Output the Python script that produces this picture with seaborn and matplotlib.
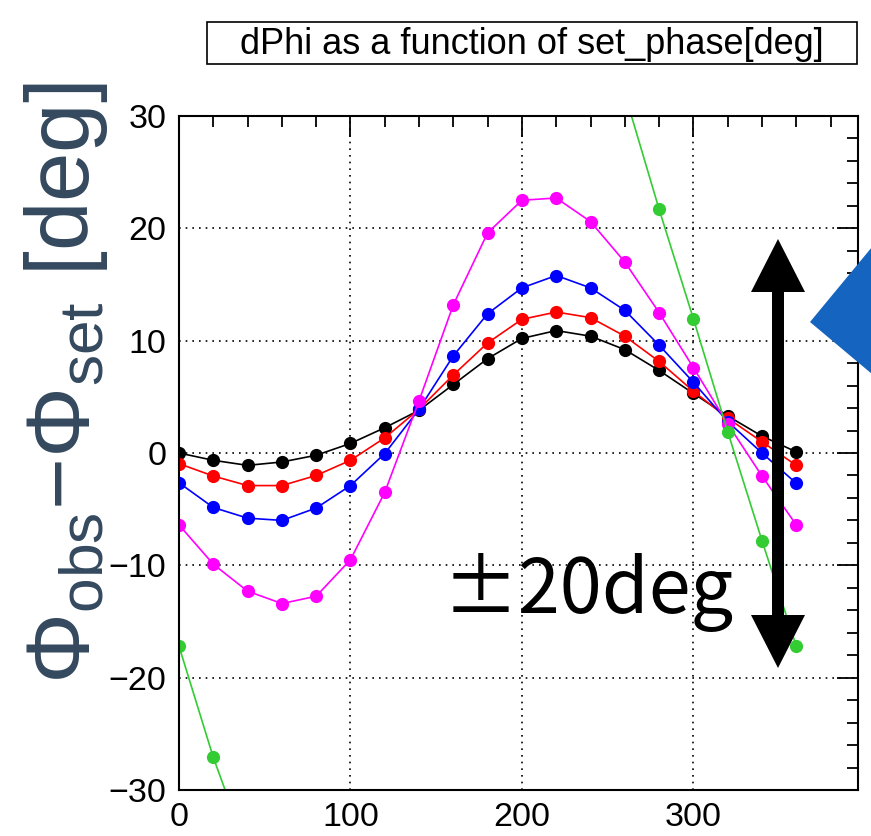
import numpy as np
import pandas as pd
import matplotlib
matplotlib.use("Agg")
import matplotlib.pyplot as plt
from matplotlib.patches import Rectangle, Polygon
from matplotlib.ticker import MultipleLocator
import seaborn as sns

# ---------------- data ----------------
phase = [0, 20, 40, 60, 80, 100, 120, 140, 160, 180, 200, 220, 240, 260, 280, 300, 320, 340, 360]
black = [0.0, -0.65, -1.1, -0.8, -0.2, 0.85, 2.25, 3.8, 6.1, 8.4, 10.2, 10.9, 10.4, 9.2, 7.35, 5.3, 3.3, 1.5, 0.1]
red = [-0.95, -2.05, -2.9, -2.9, -2.0, -0.65, 1.35, 3.9, 6.95, 9.8, 11.9, 12.55, 12.05, 10.4, 8.15, 5.5, 3.1, 1.0, -1.1]
blue = [-2.65, -4.85, -5.8, -6.0, -4.9, -2.9, -0.05, 3.9, 8.65, 12.4, 14.7, 15.8, 14.7, 12.7, 9.6, 6.3, 2.8, 0.0, -2.7]
magenta = [-6.4, -9.9, -12.3, -13.4, -12.75, -9.5, -3.5, 4.65, 13.2, 19.6, 22.5, 22.7, 20.6, 17.0, 12.5, 7.6, 2.6, -2.05, -6.4]
green_phase_a = [0, 20, 40]
green_a = [-17.2, -27.1, -35.5]
green_phase_b = [260, 280, 300, 320, 340, 360]
green_b = [32.0, 21.7, 11.95, 1.9, -7.8, -17.2]

x_ticks = [0, 100, 200, 300]
y_ticks = [-30, -20, -10, 0, 10, 20, 30]
title = "dPhi as a function of set_phase[deg]"
ylabel = "Φ$_{\\mathregular{obs}}$−Φ$_{\\mathregular{set}}$ [deg]"
note = "±20deg"

series_colors = {"black": "#000000", "red": "#ff0000", "blue": "#0000ff",
                 "magenta": "#ff00ff", "green": "#33cc33"}

rows = []
for name, vals in [("black", black), ("red", red), ("blue", blue), ("magenta", magenta)]:
    for p, v in zip(phase, vals):
        rows.append(dict(series=name, seg=0, phase=p, dphi=v))
for p, v in zip(green_phase_a, green_a):
    rows.append(dict(series="green", seg=0, phase=p, dphi=v))
for p, v in zip(green_phase_b, green_b):
    rows.append(dict(series="green", seg=1, phase=p, dphi=v))
df = pd.DataFrame(rows)

# ---------------- style ----------------
sns.set_theme(style="white")
plt.rcParams["font.family"] = ["Liberation Sans", "DejaVu Sans"]
plt.rcParams["mathtext.fontset"] = "custom"
plt.rcParams["mathtext.rm"] = "Liberation Sans"

W, H = 871, 836
fig = plt.figure(figsize=(W / 100, H / 100), dpi=100)
fig.patch.set_facecolor("white")

def fx(px):
    return px / W

def fy(py):
    return 1 - py / H

ax = fig.add_axes([fx(179), fy(790), (858 - 179) / W, (790 - 116) / H])
ax.set_facecolor("white")

sns.lineplot(data=df, x="phase", y="dphi", hue="series", units="seg", estimator=None,
             hue_order=["black", "red", "blue", "magenta", "green"],
             palette=series_colors, marker="o", markersize=9.5, markeredgewidth=0,
             linewidth=1.2, legend=False, sort=False, ax=ax, clip_on=True)

ax.set_xlim(0, 396)
ax.set_ylim(-30, 30)
ax.set_xticks(x_ticks)
ax.set_yticks(y_ticks)
ax.xaxis.set_minor_locator(MultipleLocator(20))
ax.yaxis.set_minor_locator(MultipleLocator(2))
ax.set_xlabel("")
ax.set_ylabel("")
ax.grid(True, which="major", color="black", linestyle=(0, (1, 3)), linewidth=1.2)
ax.tick_params(which="both", direction="in", top=True, right=True, color="black",
               labelsize=24.5, labelcolor="black")
ax.tick_params(which="major", length=15, width=1.3, pad=9)
ax.tick_params(which="minor", length=8, width=1.3)
for s in ax.spines.values():
    s.set_color("black")
    s.set_linewidth(1.5)

# title box
fig.patches.append(Rectangle((fx(207), fy(64)), (857 - 207) / W, (64 - 22) / H,
                             transform=fig.transFigure, facecolor="white",
                             edgecolor="black", linewidth=1.2))
fig.text(fx(532), fy(44), title, ha="center", va="center", fontsize=26, color="black")

# y label
fig.text(fx(66), fy(383), ylabel, rotation=90, ha="center", va="center",
         fontsize=64, color="#34495e")

# annotation: double-headed arrow
cx, top, bot = 778, 239, 668
hw, sw, hl = 27, 6, 53
pts = [(cx, top), (cx + hw, top + hl), (cx + sw, top + hl), (cx + sw, bot - hl),
       (cx + hw, bot - hl), (cx, bot), (cx - hw, bot - hl), (cx - sw, bot - hl),
       (cx - sw, top + hl), (cx - hw, top + hl)]
fig.patches.append(Polygon([(fx(a), fy(b)) for a, b in pts], closed=True,
                           transform=fig.transFigure, facecolor="black",
                           edgecolor="none", zorder=5))

fig.text(fx(443), fy(613), note, ha="left", va="baseline", fontsize=54.5,
         family=["Noto Sans CJK JP", "DejaVu Sans"], color="black", zorder=6)

# blue pointer shape at right edge
tri = [(810, 322), (872, 247), (872, 374)]
fig.patches.append(Polygon([(fx(a), fy(b)) for a, b in tri], closed=True,
                           transform=fig.transFigure, facecolor="#1565c0",
                           edgecolor="none", zorder=5))

fig.savefig("out.png", dpi=100, facecolor="white")
